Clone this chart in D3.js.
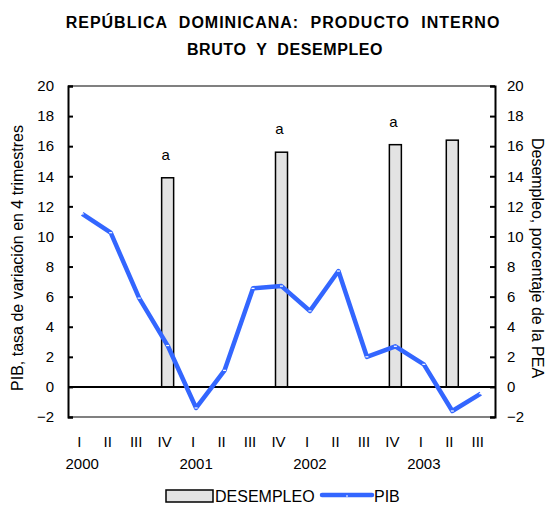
<!DOCTYPE html>
<html>
<head>
<meta charset="utf-8">
<script src="https://cdn.jsdelivr.net/npm/d3@7"></script>
<style>
  body { margin: 0; background: #fff; }
  svg text { font-family: "Liberation Sans", Arial, sans-serif; fill: #000; }
</style>
</head>
<body>
<div id="chart"></div>
<script>
// quarters from I-2000 to III-2003
const quarters = ["I", "II", "III", "IV", "I", "II", "III", "IV", "I", "II", "III", "IV", "I", "II", "III"];
const years = ["2000", "2001", "2002", "2003"];
const pib = [11.5, 10.25, 5.9, 2.75, -1.4, 1.1, 6.55, 6.7, 5.05, 7.7, 2.0, 2.7, 1.5, -1.6, -0.45];
// unemployment only published for some quarters
const desempleo = [null, null, null, 13.9, null, null, null, 15.6, null, null, null, 16.1, null, 16.4, null];
const notes = [null, null, null, "a", null, null, null, "a", null, null, null, "a", null, null, null];
const yTicks = [-2, 0, 2, 4, 6, 8, 10, 12, 14, 16, 18, 20];

var width = 546, height = 506;
var plotLeft = 68, plotRight = 495, plotTop = 86, plotBottom = 417;

var svg = d3.select("#chart").append("svg")
  .attr("width", width)
  .attr("height", height);

var idx = quarters.map(function(d, i) { return i; });

var x = d3.scaleBand()
  .domain(idx)
  .range([plotLeft, plotRight]);

var y = d3.scaleLinear()
  .domain([-2, 20])
  .range([plotBottom, plotTop]);

function cx(i) { return x(i) + x.bandwidth() / 2; }

// title
svg.append("text")
  .attr("x", 283).attr("y", 28)
  .attr("text-anchor", "middle")
  .style("font-size", "16px").style("font-weight", "bold")
  .style("word-spacing", "6px").style("letter-spacing", "1px")
  .text("REPÚBLICA DOMINICANA: PRODUCTO INTERNO");
svg.append("text")
  .attr("x", 285).attr("y", 55)
  .attr("text-anchor", "middle")
  .style("font-size", "16px").style("font-weight", "bold")
  .style("word-spacing", "5px").style("letter-spacing", "0.6px")
  .text("BRUTO Y DESEMPLEO");

// frame: grey top and bottom
svg.append("line")
  .attr("x1", plotLeft).attr("x2", plotRight).attr("y1", plotTop).attr("y2", plotTop)
  .attr("stroke", "#808080").attr("stroke-width", 2);
svg.append("line")
  .attr("x1", plotLeft).attr("x2", plotRight).attr("y1", plotBottom).attr("y2", plotBottom)
  .attr("stroke", "#808080").attr("stroke-width", 2);

// bars
var bars = desempleo.map(function(v, i) { return { i: i, v: v }; })
  .filter(function(d) { return d.v !== null; });

svg.append("g").selectAll("rect")
  .data(bars)
  .enter().append("rect")
  .attr("x", function(d) { return cx(d.i) - 6; })
  .attr("y", function(d) { return y(d.v); })
  .attr("width", 12)
  .attr("height", function(d) { return y(0) - y(d.v); })
  .attr("fill", "#e3e3e3")
  .attr("stroke", "#000")
  .attr("stroke-width", 1.5);

svg.append("g").selectAll("text")
  .data(notes.map(function(n, i) { return { i: i, n: n }; }).filter(function(d) { return d.n; }))
  .enter().append("text")
  .attr("x", function(d) { return cx(d.i) - 2; })
  .attr("y", function(d) { return y(desempleo[d.i]) - 18; })
  .attr("text-anchor", "middle")
  .style("font-size", "15px")
  .text(function(d) { return d.n; });

// zero line
svg.append("line")
  .attr("x1", plotLeft).attr("x2", plotRight).attr("y1", y(0)).attr("y2", y(0))
  .attr("stroke", "#000").attr("stroke-width", 2);

// axes
var yLeft = d3.axisLeft(y).tickValues(yTicks).tickSize(-5).tickPadding(14);
var gl = svg.append("g")
  .attr("transform", "translate(" + plotLeft + ",0)")
  .call(yLeft);
var yRight = d3.axisRight(y).tickValues(yTicks).tickSize(-5).tickPadding(12);
var gr = svg.append("g")
  .attr("transform", "translate(" + plotRight + ",0)")
  .call(yRight);
[gl, gr].forEach(function(g) {
  g.select(".domain").attr("stroke", "#000").attr("stroke-width", 2);
  g.selectAll(".tick line").attr("stroke", "#000").attr("stroke-width", 2);
  g.selectAll(".tick text").style("font-size", "15px").attr("fill", "#000");
});

// PIB line
var line = d3.line()
  .x(function(d, i) { return cx(i); })
  .y(function(d) { return y(d); });

svg.append("path")
  .datum(pib)
  .attr("fill", "none")
  .attr("stroke", "#3366ff")
  .attr("stroke-width", 4.5)
  .attr("stroke-linejoin", "round")
  .attr("d", line);

svg.append("g").selectAll("line")
  .data(pib)
  .enter().append("line")
  .attr("x1", function(d, i) { return cx(i) - 1.5; })
  .attr("x2", function(d, i) { return cx(i) + 1.5; })
  .attr("y1", function(d) { return y(d); })
  .attr("y2", function(d) { return y(d); })
  .attr("stroke", "#fff")
  .attr("stroke-width", 1.2);

// quarter and year labels
svg.append("g").selectAll("text")
  .data(quarters)
  .enter().append("text")
  .attr("x", function(d, i) { return cx(i) - 3; })
  .attr("y", 447)
  .attr("text-anchor", "middle")
  .style("font-size", "15px")
  .text(function(d) { return d; });

svg.append("g").selectAll("text")
  .data(years)
  .enter().append("text")
  .attr("x", function(d, i) { return cx(i * 4); })
  .attr("y", 469)
  .attr("text-anchor", "middle")
  .style("font-size", "15px")
  .text(function(d) { return d; });

// axis titles
svg.append("text")
  .attr("transform", "translate(23,258) rotate(-90)")
  .attr("text-anchor", "middle")
  .style("font-size", "16px")
  .text("PIB, tasa de variación en 4 trimestres");
svg.append("text")
  .attr("transform", "translate(532,258) rotate(90)")
  .attr("text-anchor", "middle")
  .style("font-size", "16px")
  .text("Desempleo, porcentaje de la PEA");

// legend
var lg = svg.append("g");
lg.append("rect")
  .attr("x", 166).attr("y", 490).attr("width", 47).attr("height", 12)
  .attr("fill", "#e3e3e3").attr("stroke", "#000").attr("stroke-width", 1.5);
lg.append("text")
  .attr("x", 215).attr("y", 502)
  .style("font-size", "16px")
  .text("DESEMPLEO");
lg.append("line")
  .attr("x1", 322).attr("x2", 372).attr("y1", 495).attr("y2", 495)
  .attr("stroke", "#3366ff").attr("stroke-width", 4.5).attr("stroke-linecap", "round");
lg.append("line")
  .attr("x1", 346).attr("x2", 348).attr("y1", 496).attr("y2", 496)
  .attr("stroke", "#fff").attr("stroke-width", 1.2);
lg.append("text")
  .attr("x", 374).attr("y", 502)
  .style("font-size", "16px")
  .text("PIB");
</script>
</body>
</html>
